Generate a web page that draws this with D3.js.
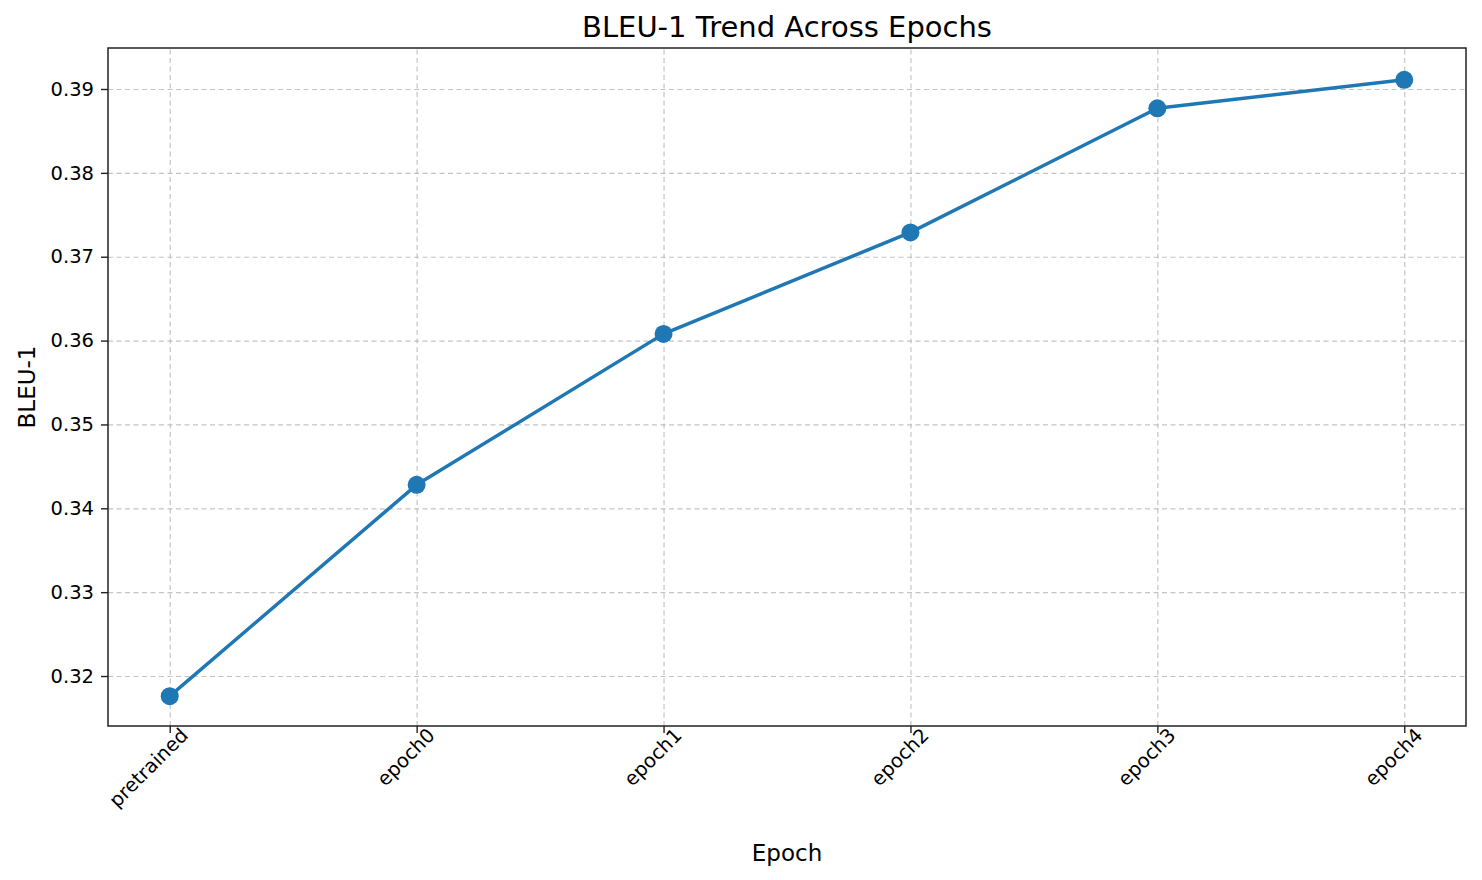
<!DOCTYPE html>
<html>
<head>
<meta charset="utf-8">
<script src="https://cdn.jsdelivr.net/npm/d3@7"></script>
<style>
  body { margin: 0; background: #fff; }
  text { font-family: "DejaVu Sans", sans-serif; fill: #000; }
  .grid line { stroke: #b0b0b0; stroke-dasharray: 5,3.5; stroke-opacity: 0.75; stroke-width: 1.2; }
  .grid path { display: none; }
</style>
</head>
<body>
<div id="chart"></div>
<script>
const epochs = ["pretrained", "epoch0", "epoch1", "epoch2", "epoch3", "epoch4"];
const bleu1 = [0.3176, 0.3428, 0.3608, 0.3729, 0.3877, 0.3911];
const yTicks = [0.32, 0.33, 0.34, 0.35, 0.36, 0.37, 0.38, 0.39];

const width = 1482, height = 880;
const margin = { top: 48, right: 16, bottom: 154, left: 108 };
const w = width - margin.left - margin.right;
const h = height - margin.top - margin.bottom;

const svg = d3.select("#chart").append("svg")
    .attr("width", width).attr("height", height);
const g = svg.append("g")
    .attr("transform", "translate(" + margin.left + "," + margin.top + ")");

const scaleX = d3.scaleLinear().domain([-0.25, epochs.length - 0.75]).range([0, w]);
const scaleY = d3.scaleLinear().domain([0.31404, 0.39489]).range([h, 0]);

// grids
g.append("g").attr("class", "grid")
    .attr("transform", "translate(0," + h + ")")
    .call(d3.axisBottom(scaleX).tickValues(d3.range(epochs.length)).tickSize(-h).tickFormat(""));
g.append("g").attr("class", "grid")
    .call(d3.axisLeft(scaleY).tickValues(yTicks).tickSize(-w).tickFormat(""));

// axes
const xAxis = g.append("g")
    .attr("transform", "translate(0," + h + ")")
    .call(d3.axisBottom(scaleX).tickValues(d3.range(epochs.length))
        .tickFormat(i => epochs[i]).tickSize(7).tickPadding(7));
xAxis.selectAll("text")
    .style("font-size", "19.5px")
    .attr("text-anchor", "end")
    .attr("x", 6).attr("y", 14).attr("dy", "0.35em")
    .attr("transform", "rotate(-45)");

const yAxis = g.append("g")
    .call(d3.axisLeft(scaleY).tickValues(yTicks).tickFormat(d3.format(".2f")).tickSize(7).tickPadding(7));
yAxis.selectAll("text").style("font-size", "19.5px");
g.selectAll(".tick line").filter(function() { return !this.closest(".grid"); })
    .attr("stroke", "#222").attr("stroke-width", 1.4);
g.selectAll(".domain").remove();

// frame
g.append("rect").attr("width", w).attr("height", h)
    .attr("fill", "none").attr("stroke", "#222").attr("stroke-width", 1.5);

// line
const line = d3.line().x((d, i) => scaleX(i)).y(d => scaleY(d));
g.append("path").attr("d", line(bleu1))
    .attr("fill", "none").attr("stroke", "#1f77b4").attr("stroke-width", 3.5)
    .attr("stroke-linejoin", "round").attr("stroke-linecap", "round");
g.selectAll("circle.pt").data(bleu1).enter().append("circle")
    .attr("cx", (d, i) => scaleX(i)).attr("cy", d => scaleY(d))
    .attr("r", 9).attr("fill", "#1f77b4");

// labels
svg.append("text").attr("x", margin.left + w / 2).attr("y", 37)
    .attr("text-anchor", "middle").style("font-size", "29px")
    .text("BLEU-1 Trend Across Epochs");
svg.append("text").attr("x", margin.left + w / 2).attr("y", 861)
    .attr("text-anchor", "middle").style("font-size", "23px").text("Epoch");
svg.append("text")
    .attr("transform", "translate(35," + (margin.top + h / 2) + ") rotate(-90)")
    .attr("text-anchor", "middle").style("font-size", "23px").text("BLEU-1");
</script>
</body>
</html>
